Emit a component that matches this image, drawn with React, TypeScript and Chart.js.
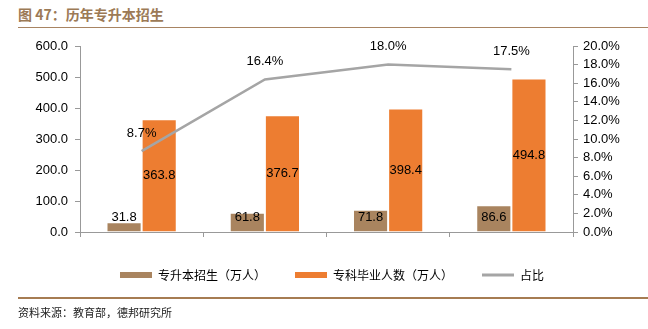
import React, { useEffect, useRef } from "react";
import { Chart, registerables } from "chart.js";

Chart.register(...registerables);

const categories = ["2019", "2020", "2021", "2022"];
const enrollment = [31.8, 61.8, 71.8, 86.6];
const graduates = [363.8, 376.7, 398.4, 494.8];
const ratio = [8.7, 16.4, 18.0, 17.5];
const seriesNames = ["专升本招生（万人）", "专科毕业人数（万人）", "占比"];
const titleText = "图 47：历年专升本招生";
const sourceText = "资料来源：教育部，德邦研究所";

const BROWN = "#A9845F";
const ORANGE = "#ED7D31";
const GRAY = "#A5A5A5";
const NUM_FONT = '"Liberation Sans", Arial, sans-serif';
const CJK_FONT = '"Noto Sans CJK SC", sans-serif';

const valueLabels = {
  id: "valueLabels",
  afterDatasetsDraw(chart: any) {
    const ctx = chart.ctx;
    ctx.save();
    ctx.font = `13px ${NUM_FONT}`;
    ctx.fillStyle = "#000";
    ctx.textAlign = "center";
    ctx.textBaseline = "middle";
    chart.data.datasets.forEach((ds: any, di: number) => {
      const meta = chart.getDatasetMeta(di);
      meta.data.forEach((el: any, i: number) => {
        const v = ds.data[i] as number;
        let y: number;
        let text: string;
        if (di === 0) {
          y = el.base - 14;
          text = v.toFixed(1);
        } else if (di === 1) {
          y = (el.y + el.base) / 2;
          text = v.toFixed(1);
        } else {
          y = el.y - 18;
          text = v.toFixed(1) + "%";
        }
        ctx.fillText(text, el.x, y);
      });
    });
    ctx.restore();
  },
};

export default function App() {
  const ref = useRef<HTMLCanvasElement>(null);

  useEffect(() => {
    if (!ref.current) return;
    const chart = new Chart(ref.current, {
      type: "bar",
      data: {
        labels: categories,
        datasets: [
          {
            type: "bar",
            label: seriesNames[0],
            data: enrollment,
            backgroundColor: BROWN,
            borderColor: "rgba(255,255,255,0.5)",
            borderWidth: 1,
            yAxisID: "y",
            order: 1,
            categoryPercentage: 0.57,
            barPercentage: 1,
          },
          {
            type: "bar",
            label: seriesNames[1],
            data: graduates,
            backgroundColor: ORANGE,
            borderColor: "rgba(255,255,255,0.5)",
            borderWidth: 1,
            yAxisID: "y",
            order: 1,
            categoryPercentage: 0.57,
            barPercentage: 1,
          },
          {
            type: "line",
            label: seriesNames[2],
            data: ratio,
            borderColor: GRAY,
            backgroundColor: GRAY,
            borderWidth: 2.5,
            pointRadius: 0,
            tension: 0,
            yAxisID: "y1",
            order: 0,
          },
        ] as any,
      },
      options: {
        animation: false,
        responsive: false,
        maintainAspectRatio: false,
        layout: { padding: { top: 46, left: 16, right: 0, bottom: 38 } },
        plugins: {
          tooltip: { enabled: false },
          legend: {
            position: "bottom",
            labels: {
              usePointStyle: true,
              pointStyleWidth: 32,
              boxHeight: 6,
              padding: 29,
              color: "#000",
              font: { family: CJK_FONT, size: 12 },
              sort: (a: any, b: any) => a.datasetIndex - b.datasetIndex,
              generateLabels(chart: any) {
                const items = Chart.defaults.plugins.legend.labels.generateLabels(chart);
                return items.map((it: any) => {
                  const isLine = it.datasetIndex === 2;
                  const color = [BROWN, ORANGE, GRAY][it.datasetIndex];
                  return {
                    ...it,
                    fillStyle: color,
                    strokeStyle: color,
                    pointStyle: isLine ? "line" : "rect",
                    lineWidth: isLine ? 3 : 0,
                  };
                });
              },
            },
          },
        },
        scales: {
          x: {
            offset: true,
            grid: {
              offset: true,
              drawOnChartArea: false,
              drawTicks: true,
              tickLength: 5,
              color: "#999",
            },
            border: { color: "#999" },
            ticks: {
              color: "#000",
              font: { family: NUM_FONT, size: 13 },
              padding: 4,
            },
            afterFit(scale: any) {
              scale.height = 8;
            },
          },
          y: {
            position: "left",
            min: 0,
            max: 600,
            ticks: {
              stepSize: 100,
              color: "#000",
              font: { family: NUM_FONT, size: 13 },
              padding: 7,
              callback: (v: any) => Number(v).toFixed(1),
            },
            grid: {
              drawOnChartArea: false,
              drawTicks: true,
              tickLength: 5,
              color: "#999",
            },
            border: { color: "#999" },
            afterFit(scale: any) {
              scale.width = 64;
            },
          },
          y1: {
            position: "right",
            min: 0,
            max: 20,
            ticks: {
              stepSize: 2,
              color: "#000",
              font: { family: NUM_FONT, size: 13 },
              padding: 5,
              callback: (v: any) => Number(v).toFixed(1) + "%",
            },
            grid: {
              drawOnChartArea: false,
              drawTicks: true,
              tickLength: 5,
              color: "#999",
            },
            border: { color: "#999" },
            afterFit(scale: any) {
              scale.width = 75;
            },
          },
        },
      },
      plugins: [valueLabels],
    });
    return () => chart.destroy();
  }, []);

  return (
    <div
      style={{
        position: "absolute",
        left: 0,
        top: 0,
        width: 648,
        height: 329,
        background: "#fff",
        overflow: "hidden",
      }}
    >
      <div
        style={{
          position: "absolute",
          left: 18,
          top: 5,
          fontFamily: CJK_FONT,
          fontWeight: 700,
          fontSize: 14,
          lineHeight: "18px",
          color: "#9C7A56",
          whiteSpace: "nowrap",
        }}
      >
        {titleText}
      </div>
      <div
        style={{
          position: "absolute",
          left: 18,
          top: 27,
          width: 630,
          height: 1,
          background: "#A88462",
        }}
      />
      <canvas
        ref={ref}
        width={648}
        height={329}
        style={{ position: "absolute", left: 0, top: 0, width: 648, height: 329 }}
      />
      <div
        style={{
          position: "absolute",
          left: 18,
          top: 297,
          width: 630,
          height: 2,
          background: "#A67C52",
        }}
      />
      <div
        style={{
          position: "absolute",
          left: 18,
          top: 304,
          fontFamily: CJK_FONT,
          fontSize: 11,
          lineHeight: "16px",
          color: "#222",
          whiteSpace: "nowrap",
        }}
      >
        {sourceText}
      </div>
    </div>
  );
}
